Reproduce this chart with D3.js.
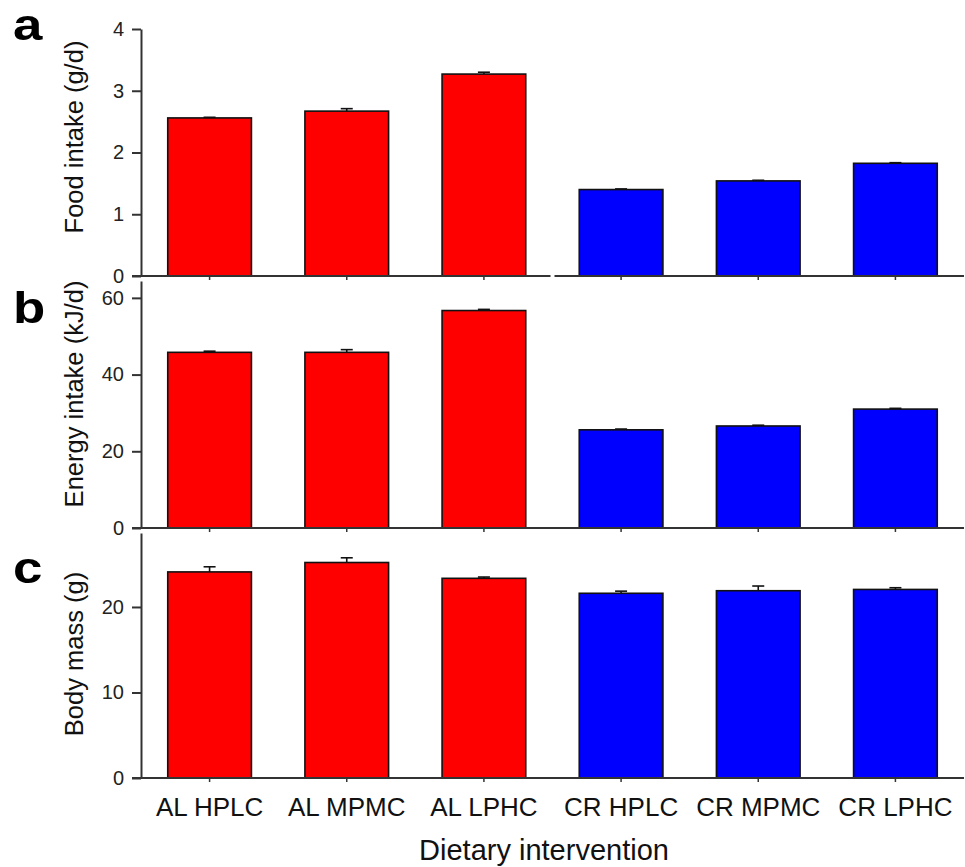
<!DOCTYPE html>
<html>
<head>
<meta charset="utf-8">
<script src="https://cdn.jsdelivr.net/npm/d3@7"></script>
<style>
    body { margin: 0; background: #fff; }
    svg { display: block; font-family: "Liberation Sans", Arial, sans-serif; }
</style>
</head>
<body>
<svg id="chart"></svg>
<script>
    'use strict';

    var categories = ['AL HPLC', 'AL MPMC', 'AL LPHC', 'CR HPLC', 'CR MPMC', 'CR LPHC'];
    var groupColors = ['#ff0000', '#ff0000', '#ff0000', '#0000ff', '#0000ff', '#0000ff'];

    var foodIntake = [2.56, 2.67, 3.27, 1.40, 1.54, 1.825];
    var foodErr = [0.01, 0.04, 0.03, 0.01, 0.01, 0.01];
    var foodTicks = [0, 1, 2, 3, 4];

    var energyIntake = [45.8, 45.8, 56.7, 25.6, 26.6, 31.0];
    var energyErr = [0.3, 0.7, 0.3, 0.2, 0.2, 0.2];
    var energyTicks = [0, 20, 40, 60];

    var bodyMass = [24.1, 25.2, 23.35, 21.6, 21.9, 22.05];
    var bodyErr = [0.6, 0.55, 0.15, 0.25, 0.55, 0.2];
    var bodyTicks = [0, 10, 20];

    var width = 965, height = 867;
    var axisColor = '#333';

    var svg = d3.select('#chart')
        .attr('width', width)
        .attr('height', height);

    var x = d3.scaleBand()
        .domain(categories)
        .range([141, 964])
        .paddingInner(0.39)
        .paddingOuter(0.195);

    var panels = [
        { label: 'a', title: 'Food intake (g/d)', values: foodIntake, errs: foodErr, ticks: foodTicks,
          max: 4, top: 29, bottom: 276, titleY: 137, labelY: 40, gap: true },
        { label: 'b', title: 'Energy intake (kJ/d)', values: energyIntake, errs: energyErr, ticks: energyTicks,
          max: 64.4, top: 281, bottom: 528, titleY: 394, labelY: 323, gap: false },
        { label: 'c', title: 'Body mass (g)', values: bodyMass, errs: bodyErr, ticks: bodyTicks,
          max: 28.65, top: 533, bottom: 778, titleY: 654, labelY: 583, gap: false }
    ];

    panels.forEach(function(p, pi) {
        var g = svg.append('g');
        var y = d3.scaleLinear().domain([0, p.max]).range([p.bottom, p.top]);

        // bars
        g.selectAll('rect.bar')
            .data(p.values)
            .enter()
            .append('rect')
            .attr('class', 'bar')
            .attr('x', function(d, i) { return x(categories[i]); })
            .attr('width', x.bandwidth())
            .attr('y', function(d) { return y(d); })
            .attr('height', function(d) { return p.bottom - y(d); })
            .attr('fill', function(d, i) { return groupColors[i]; })
            .attr('stroke', '#111')
            .attr('stroke-width', 1.6);

        // error bars (upward only)
        var eb = g.selectAll('g.err')
            .data(p.values)
            .enter()
            .append('g')
            .attr('class', 'err')
            .attr('transform', function(d, i) { return 'translate(' + (x(categories[i]) + x.bandwidth() / 2) + ',0)'; });
        eb.append('line')
            .attr('y1', function(d) { return y(d); })
            .attr('y2', function(d, i) { return y(d + p.errs[i]); })
            .attr('stroke', '#111')
            .attr('stroke-width', 1.6);
        eb.append('line')
            .attr('x1', -6).attr('x2', 6)
            .attr('y1', function(d, i) { return y(d + p.errs[i]); })
            .attr('y2', function(d, i) { return y(d + p.errs[i]); })
            .attr('stroke', '#111')
            .attr('stroke-width', 1.6);

        // y axis
        var yAxis = g.append('g')
            .attr('transform', 'translate(141,0)')
            .call(d3.axisLeft(y).tickValues(p.ticks).tickFormat(d3.format('d'))
                .tickSize(9).tickSizeOuter(0).tickPadding(8));
        yAxis.select('.domain').attr('stroke', axisColor).attr('stroke-width', 2);
        yAxis.selectAll('.tick line').attr('stroke', axisColor).attr('stroke-width', 2);
        yAxis.selectAll('.tick text')
            .attr('fill', '#222')
            .style('font-size', '20px')
            .style('font-family', '"Liberation Sans", Arial, sans-serif');

        // x axis ticks
        var xAxis = g.append('g')
            .attr('transform', 'translate(0,' + p.bottom + ')')
            .call(d3.axisBottom(x).tickSize(4).tickSizeOuter(0).tickPadding(16));
        xAxis.select('.domain').remove();
        xAxis.selectAll('.tick line').attr('stroke', axisColor).attr('stroke-width', 1.5);
        if (pi === panels.length - 1) {
            xAxis.selectAll('.tick text')
                .attr('fill', '#111')
                .style('font-size', '26px')
                .style('font-family', '"Liberation Sans", Arial, sans-serif');
        } else {
            xAxis.selectAll('.tick text').remove();
        }

        // x axis line, with a break between the AL and CR groups in panel a
        var x0 = 132, x1 = 964;
        var segs = [[x0, x1]];
        if (p.gap) {
            var mid = (x(categories[2]) + x.bandwidth() + x(categories[3])) / 2;
            segs = [[x0, mid - 2], [mid + 2, x1]];
        }
        g.selectAll('line.xdom')
            .data(segs)
            .enter()
            .append('line')
            .attr('class', 'xdom')
            .attr('x1', function(d) { return d[0]; })
            .attr('x2', function(d) { return d[1]; })
            .attr('y1', p.bottom)
            .attr('y2', p.bottom)
            .attr('stroke', axisColor)
            .attr('stroke-width', 2);

        // y title
        g.append('text')
            .attr('transform', 'translate(83,' + p.titleY + ') rotate(-90)')
            .attr('text-anchor', 'middle')
            .attr('fill', '#111')
            .style('font-size', '25.5px')
            .text(p.title);

        // panel letter
        g.append('text')
            .attr('transform', 'translate(13,' + p.labelY + ') scale(1.2,1)')
            .attr('fill', '#000')
            .style('font-size', '44px')
            .style('font-weight', 'bold')
            .text(p.label);
    });

    svg.append('text')
        .attr('x', 544)
        .attr('y', 860)
        .attr('text-anchor', 'middle')
        .attr('fill', '#111')
        .style('font-size', '29px')
        .text('Dietary intervention');
</script>
</body>
</html>
